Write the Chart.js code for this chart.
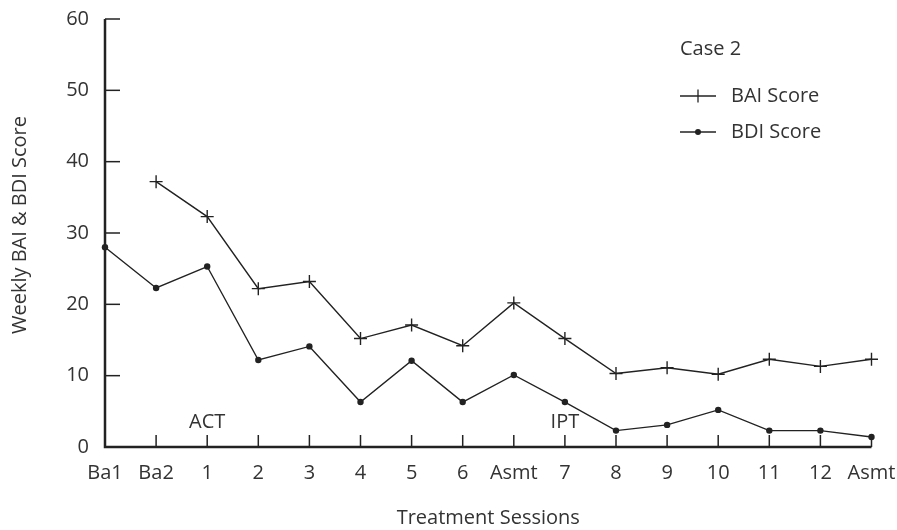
<!DOCTYPE html>
<html lang="en">
  <head>
    <meta charset="UTF-8" />
    <title>Case 2 - Weekly BAI & BDI Score</title>
    <script src="https://cdn.jsdelivr.net/npm/chart.js"></script>
    <style>
      body { margin: 0; background: #fff; }
    </style>
  </head>
  <body>
    <canvas id="caseChart" width="897" height="530"></canvas>

    <script>
      const sessions = ["Ba1", "Ba2", "1", "2", "3", "4", "5", "6", "Asmt", "7", "8", "9", "10", "11", "12", "Asmt"];
      const baiScores = [null, 37.2, 32.3, 22.2, 23.2, 15.2, 17.1, 14.2, 20.2, 15.2, 10.3, 11.1, 10.2, 12.3, 11.3, 12.3];
      const bdiScores = [28, 22.3, 25.3, 12.2, 14.1, 6.3, 12.1, 6.3, 10.1, 6.3, 2.3, 3.1, 5.2, 2.3, 2.3, 1.4];
      const yTicks = [0, 10, 20, 30, 40, 50, 60];
      const phaseLabels = [
        { text: "ACT", index: 2 },
        { text: "IPT", index: 9 },
      ];

      const ink = "#222";
      const textColor = "#333";
      const fontFamily = "'Open Sans', 'Noto Sans', sans-serif";

      // axis lines, inward tick marks, phase labels, y title and the legend box
      const decorations = {
        id: "decorations",
        beforeDatasetsDraw(chart) {
          const ctx = chart.ctx;
          const x = chart.scales.x;
          const y = chart.scales.y;
          const x0 = x.getPixelForValue(0);
          const x1 = x.getPixelForValue(sessions.length - 1);
          const y0 = y.getPixelForValue(0);
          const yTop = y.getPixelForValue(60);

          ctx.save();
          ctx.strokeStyle = ink;
          ctx.lineWidth = 1.5;
          yTicks.slice(1).forEach((v) => {
            const py = y.getPixelForValue(v);
            ctx.beginPath();
            ctx.moveTo(x0, py);
            ctx.lineTo(x0 + 15, py);
            ctx.stroke();
          });
          for (let i = 1; i < sessions.length; i++) {
            const px = x.getPixelForValue(i);
            ctx.beginPath();
            ctx.moveTo(px, y0);
            ctx.lineTo(px, y0 - 12);
            ctx.stroke();
          }

          ctx.lineWidth = 2.5;
          ctx.beginPath();
          ctx.moveTo(x0, yTop);
          ctx.lineTo(x0, y0);
          ctx.lineTo(x1, y0);
          ctx.stroke();

          ctx.fillStyle = textColor;
          ctx.font = "20px " + fontFamily;
          ctx.textAlign = "center";
          ctx.textBaseline = "middle";
          phaseLabels.forEach((p) => {
            ctx.fillText(p.text, x.getPixelForValue(p.index), y.getPixelForValue(3.4));
          });

          // y axis title, sits a little above the middle of the axis
          ctx.translate(20, 225);
          ctx.rotate(-Math.PI / 2);
          ctx.fillText("Weekly BAI & BDI Score", 0, 0);
          ctx.restore();
        },
        afterDraw(chart) {
          const ctx = chart.ctx;
          ctx.save();
          ctx.fillStyle = textColor;
          ctx.strokeStyle = ink;
          ctx.font = "20px " + fontFamily;
          ctx.textBaseline = "middle";
          ctx.textAlign = "left";
          ctx.fillText("Case 2", 680, 49);

          const rows = [
            { label: "BAI Score", y: 96, style: "cross" },
            { label: "BDI Score", y: 132, style: "dot" },
          ];
          rows.forEach((r) => {
            ctx.lineWidth = 1.3;
            ctx.beginPath();
            ctx.moveTo(680, r.y);
            ctx.lineTo(716, r.y);
            ctx.stroke();
            if (r.style === "cross") {
              ctx.beginPath();
              ctx.moveTo(698, r.y - 6.5);
              ctx.lineTo(698, r.y + 6.5);
              ctx.stroke();
            } else {
              ctx.beginPath();
              ctx.arc(698, r.y, 3, 0, Math.PI * 2);
              ctx.fillStyle = ink;
              ctx.fill();
              ctx.fillStyle = textColor;
            }
            ctx.fillText(r.label, 731, r.y);
          });
          ctx.restore();
        },
      };

      new Chart(document.getElementById("caseChart"), {
        type: "line",
        data: {
          labels: sessions,
          datasets: [
            {
              label: "BAI Score",
              data: baiScores,
              borderColor: ink,
              borderWidth: 1.4,
              pointStyle: "cross",
              pointRadius: 6.5,
              pointBorderColor: ink,
              pointBorderWidth: 1.4,
              tension: 0,
            },
            {
              label: "BDI Score",
              data: bdiScores,
              borderColor: ink,
              borderWidth: 1.4,
              pointStyle: "circle",
              pointRadius: 3.2,
              pointBackgroundColor: ink,
              pointBorderColor: ink,
              pointBorderWidth: 0,
              tension: 0,
            },
          ],
        },
        options: {
          responsive: false,
          animation: false,
          layout: { padding: { left: 5, right: 25.5, top: 19, bottom: 0 } },
          plugins: {
            legend: { display: false },
            tooltip: { enabled: false },
          },
          scales: {
            x: {
              type: "category",
              offset: false,
              grid: { display: false, drawTicks: false },
              border: { display: false },
              ticks: {
                autoSkip: false,
                maxRotation: 0,
                padding: 14,
                color: textColor,
                font: { family: fontFamily, size: 20 },
              },
              title: {
                display: true,
                text: "Treatment Sessions",
                color: textColor,
                font: { family: fontFamily, size: 20 },
                padding: { top: 0, bottom: 0 },
              },
              // pin the plot box: no extra room for label overhang
              afterFit: (s) => {
                s.height = 83;
                s.paddingLeft = 0;
                s.paddingRight = 0;
              },
            },
            y: {
              min: 0,
              max: 60,
              grid: { display: false, drawTicks: false },
              border: { display: false },
              ticks: {
                stepSize: 10,
                padding: 16,
                color: textColor,
                font: { family: fontFamily, size: 20 },
              },
              afterFit: (s) => {
                s.width = 100;
                s.paddingTop = 0;
                s.paddingBottom = 0;
              },
            },
          },
        },
        plugins: [decorations],
      });
    </script>
  </body>
</html>
